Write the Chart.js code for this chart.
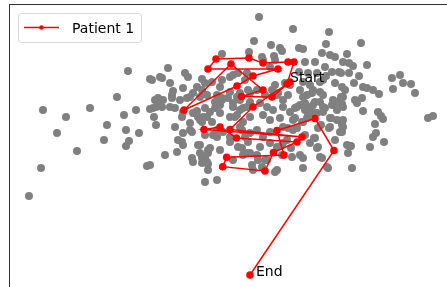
<!DOCTYPE html>
<html>
<head>
<meta charset="utf-8">
<script src="https://cdn.jsdelivr.net/npm/chart.js@4"></script>
<style>
  html, body { margin: 0; padding: 0; background: #fff; }
</style>
</head>
<body>
<canvas id="grafica" width="447" height="287"></canvas>
<script>
// valores (unidades del eje, y crece hacia abajo)
const X_LIMITS = [10, 447];
const Y_LIMITS = [5, 287];

const TODOS = [
  [29,196],[41,168],[43,110],[57,133],[66,117],[77,151],[90,108],[104,140],[107,125],[117,97],
  [124,115],[126,130],[126,146],[129,141],[128,71],[136,110],[139,133],[147,166],[150,79],[150,109],
  [153,108],[154,117],[156,125],[157,101],[160,77],[150,165],
  [259,17],[293,29],[329,32],[361,43],[254,41],[271,45],[280,48],[282,51],[299,48],[303,49],
  [326,44],[322,53],[330,55],[335,57],[347,54],[343,62],[349,63],[353,66],[367,65],[341,73],
  [349,73],[359,76],[392,78],[400,75],[403,83],[411,84],[393,89],[415,93],[354,83],[345,90],
  [363,87],[367,88],[373,90],[379,94],[341,97],[342,104],[355,100],[357,103],[362,98],[363,111],
  [378,112],[381,116],[383,119],[428,118],[433,116],[342,125],[343,127],[375,124],[376,133],[373,137],
  [384,142],[351,146],[348,153],[370,147],[352,168],
  [249,52],[222,54],[262,57],[274,56],[305,62],[315,62],[325,67],[332,72],[339,72],[168,68],
  [185,73],[188,77],[162,78],[152,80],[202,79],[212,82],[205,83],[222,80],[230,77],[247,73],
  [233,75],[238,73],[270,67],[275,60],[263,60],[308,73],[317,73],[299,72],[323,80],[335,83],
  [342,87],[326,76],[320,82],[303,82],[310,85],[290,85],[285,83],[275,85],[170,83],[173,91],
  [172,95],[183,88],[197,87],[202,90],[193,93],[200,97],[207,95],[220,87],[230,92],[240,93],
  [237,97],[250,93],[257,90],[248,90],[245,80],[277,95],[283,100],[300,90],[307,95],[313,90],
  [323,95],[333,100],[343,97],[265,95],[272,90],[278,93],[288,95],[303,97],[312,93],[320,92],
  [217,95],[222,98],
  [155,100],[160,100],[158,98],[163,100],[172,98],[180,100],[187,98],[190,97],[215,102],[222,100],
  [228,98],[233,103],[240,100],[250,102],[233,107],[240,110],[247,107],[260,103],[267,107],[273,110],
  [283,107],[290,112],[297,107],[307,107],[313,112],[323,107],[337,110],[343,107],[305,103],[315,102],
  [337,102],[340,103],[156,107],[162,107],[170,107],[175,108],[182,117],[183,112],[197,111],[203,117],
  [210,112],[220,113],[205,108],[215,108],[220,105],[235,117],[243,122],[250,117],[263,115],[270,120],
  [280,118],[293,120],[303,122],[330,118],[342,123],[230,117],[237,115],[243,108],[193,113],[198,117],
  [202,122],[207,117],[212,122],[200,120],[295,108],[300,105],[305,110],[313,105],[320,102],[325,108],
  [332,105],[308,115],[317,113],[323,112],[331,118],[337,120],[295,118],[302,122],[307,118],[307,110],
  [175,127],[183,133],[192,132],[190,123],[190,130],[217,130],[223,132],[240,127],[250,133],[257,130],
  [263,137],[270,132],[283,127],[293,130],[318,128],[330,127],[342,132],[288,128],[297,128],[305,135],
  [315,138],[178,140],[183,145],[200,145],[210,148],[230,142],[238,147],[248,142],[260,147],[270,143],
  [277,147],[310,143],[318,147],[347,145],[182,142],[177,152],[165,155],[193,162],[202,163],[207,162],
  [200,153],[208,153],[208,170],[205,182],[217,180],[242,130],[245,137],[217,137],[243,155],[250,153],
  [257,155],[252,165],[262,167],[265,160],[277,170],[283,143],[287,140],[292,157],[300,155],[303,168],
  [317,148],[320,157],[328,168],[335,140],[340,132],[343,120],[275,172],[253,170],[258,160],[267,160],
  [282,155],[282,145],[303,158],[322,158],[327,167],[291,148],[205,135],[213,135],[198,145],[208,150],
  [220,150],[233,160],[242,148],[247,153],[230,137],[192,158],[202,158],[205,157],[208,164],[321,125],
  [329,128],[314,138],[350,146]
];

// recorrido del paciente 1, de Start a End
const PACIENTE_X = [287, 294, 288, 263, 249, 216, 208, 278, 253, 237, 184, 231, 263, 241.5, 272, 290, 253, 230, 302, 204, 220, 236.5, 297, 273.5, 265, 222.7, 226.7, 284, 277, 315, 334, 250];
const PACIENTE_Y = [ 84,  62,  62,  63,  58,  59,  69,  69,  76,  86, 110,  64,  90,  96.5,  97,  82, 107, 129.5, 137, 129.5, 127, 138, 142, 152.5, 171, 166.7, 157.3, 155, 130.5, 118.5, 150.5, 275];

const ETIQUETAS = ['Start', 'End'];
const NOMBRE = 'Patient 1';

const FUENTE = '"DejaVu Sans", sans-serif';

const marco = {
    id: 'marco',
    afterDraw(chart) {
        const { ctx, chartArea } = chart;
        ctx.save();
        ctx.strokeStyle = '#333';
        ctx.lineWidth = 1;
        ctx.strokeRect(chartArea.left - 0.5, chartArea.top - 0.5, chartArea.right - chartArea.left + 10, chartArea.bottom - chartArea.top + 10);
        ctx.restore();
    }
};

const textos = {
    id: 'textos',
    afterDatasetsDraw(chart) {
        const { ctx } = chart;
        const pts = chart.getDatasetMeta(0).data;
        const ini = pts[0], fin = pts[pts.length - 1];
        ctx.save();
        ctx.fillStyle = '#000';
        ctx.font = '14px ' + FUENTE;
        ctx.textBaseline = 'alphabetic';
        ctx.fillText(ETIQUETAS[0], ini.x + 3, ini.y - 2);
        ctx.fillText(ETIQUETAS[1], fin.x + 6, fin.y + 1);

        // leyenda
        const x0 = 18.5, y0 = 13.5, w = 123, h = 29;
        ctx.beginPath();
        ctx.roundRect(x0, y0, w, h, 3);
        ctx.fillStyle = 'rgba(255,255,255,0.8)';
        ctx.fill();
        ctx.strokeStyle = '#d6d6d6';
        ctx.lineWidth = 1;
        ctx.stroke();
        ctx.strokeStyle = '#ff0000';
        ctx.lineWidth = 1.5;
        ctx.beginPath();
        ctx.moveTo(24, 27.5);
        ctx.lineTo(59, 27.5);
        ctx.stroke();
        ctx.beginPath();
        ctx.arc(41.5, 27.5, 2.2, 0, Math.PI * 2);
        ctx.fillStyle = '#ff0000';
        ctx.fill();
        ctx.fillStyle = '#000';
        ctx.font = '14px ' + FUENTE;
        ctx.fillText(NOMBRE, 72, 33);
        ctx.restore();
    }
};

const ctx = document.getElementById('grafica').getContext('2d');
const myChart = new Chart(ctx, {
    type: 'scatter',
    data: {
        datasets: [{
            label: NOMBRE,
            data: PACIENTE_X.map((x, i) => ({ x: x, y: PACIENTE_Y[i] })),
            showLine: true,
            borderColor: '#ff0000',
            backgroundColor: '#ff0000',
            borderWidth: 1.5,
            pointRadius: 3.8,
            pointBorderWidth: 0,
            order: 0
        }, {
            label: 'todos',
            data: TODOS.map(p => ({ x: p[0], y: p[1] })),
            backgroundColor: '#808080',
            borderWidth: 0,
            pointRadius: 4,
            order: 1
        }]
    },
    options: {
        responsive: false,
        animation: false,
        devicePixelRatio: 1,
        layout: { autoPadding: false, padding: { left: 10, top: 5, right: 0, bottom: 0 } },
        scales: {
            x: { type: 'linear', min: X_LIMITS[0], max: X_LIMITS[1], display: false },
            y: { type: 'linear', min: Y_LIMITS[0], max: Y_LIMITS[1], reverse: true, display: false }
        },
        plugins: {
            legend: { display: false },
            tooltip: { enabled: false }
        }
    },
    plugins: [marco, textos]
});
</script>
</body>
</html>
